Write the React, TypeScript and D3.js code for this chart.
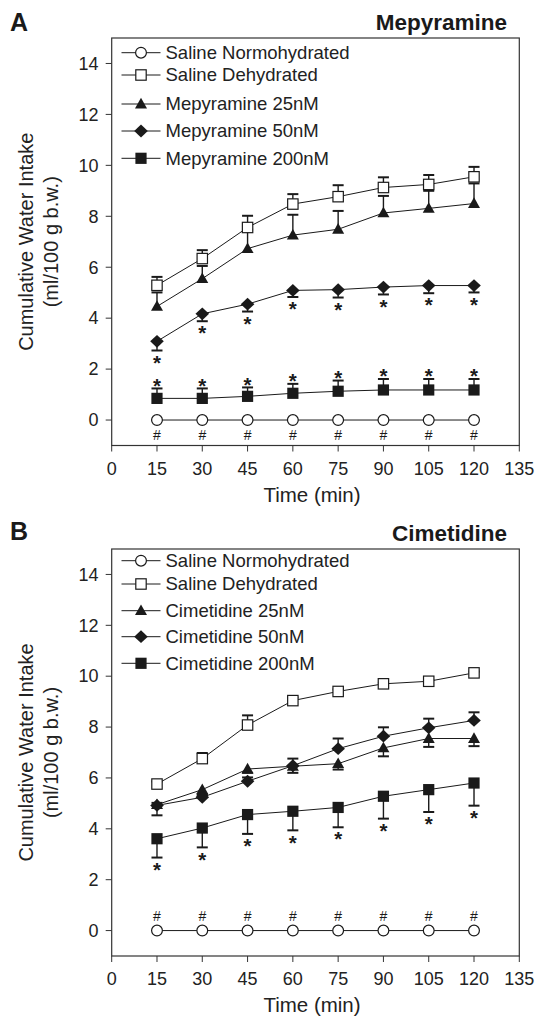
import React from "react";
import * as d3 from "d3";

const times = [15, 30, 45, 60, 75, 90, 105, 120];
const xTicks = [0, 15, 30, 45, 60, 75, 90, 105, 120, 135];
const yTicks = [0, 2, 4, 6, 8, 10, 12, 14];

// Panel A — Mepyramine
const mepLabels = ["Saline Normohydrated", "Saline Dehydrated", "Mepyramine 25nM", "Mepyramine 50nM", "Mepyramine 200nM"];
const mepNormo = [0, 0, 0, 0, 0, 0, 0, 0];
const mepDehyd = [5.29, 6.34, 7.56, 8.48, 8.77, 9.13, 9.25, 9.55];
const mepDehydErr = [0.33, 0.33, 0.46, 0.39, 0.45, 0.4, 0.37, 0.39];
const mep25 = [4.46, 5.55, 6.73, 7.26, 7.49, 8.13, 8.31, 8.5];
const mep25Err = [0.55, 0.5, 0.75, 0.8, 0.72, 0.67, 0.69, 0.79];
const mep50 = [3.09, 4.17, 4.55, 5.09, 5.12, 5.22, 5.28, 5.28];
const mep50Err = [0.36, 0.29, 0.29, 0.26, 0.31, 0.29, 0.3, 0.27];
const mep200 = [0.85, 0.85, 0.93, 1.05, 1.13, 1.18, 1.18, 1.18];
const mep200Err = [0.39, 0.39, 0.35, 0.37, 0.42, 0.43, 0.43, 0.43];

// Panel B — Cimetidine
const cimLabels = ["Saline Normohydrated", "Saline Dehydrated", "Cimetidine 25nM", "Cimetidine 50nM", "Cimetidine 200nM"];
const cimNormo = [0, 0, 0, 0, 0, 0, 0, 0];
const cimDehyd = [5.76, 6.76, 8.08, 9.04, 9.4, 9.7, 9.8, 10.13];
const cimDehydErr = [0.1, 0.22, 0.38, 0.12, 0.08, 0.05, 0.05, 0.05];
const cim25 = [4.95, 5.54, 6.35, 6.46, 6.56, 7.18, 7.55, 7.55];
const cim25Err = [0.42, 0.2, 0.15, 0.26, 0.23, 0.33, 0.33, 0.3];
const cim50 = [4.92, 5.24, 5.87, 6.48, 7.15, 7.64, 7.97, 8.26];
const cim50Err = [0.1, 0.1, 0.15, 0.28, 0.4, 0.35, 0.36, 0.32];
const cim200 = [3.61, 4.03, 4.56, 4.69, 4.84, 5.28, 5.54, 5.8];
const cim200Err = [0.74, 0.76, 0.76, 0.75, 0.78, 0.88, 0.88, 0.89];

const FONT = "'Liberation Sans', Arial, Helvetica, sans-serif";
const INK = "#1a1a1a";
const shapes = ["circle", "square", "triangle", "diamond", "squareFilled"];
const STAR_FS = 20.5;

function Marker({ shape, cx, cy }: { shape: string; cx: number; cy: number }) {
  if (shape === "circle")
    return <circle cx={cx} cy={cy} r={5.4} fill="#fff" stroke={INK} strokeWidth={1.2} />;
  if (shape === "square")
    return <rect x={cx - 5.2} y={cy - 5.2} width={10.4} height={10.4} fill="#fff" stroke={INK} strokeWidth={1.2} />;
  if (shape === "squareFilled")
    return <rect x={cx - 5.6} y={cy - 5.6} width={11.2} height={11.2} fill={INK} />;
  if (shape === "triangle")
    return <path d={`M${cx},${cy - 6.2}L${cx + 6},${cy + 4.4}L${cx - 6},${cy + 4.4}Z`} fill={INK} />;
  return <path d={`M${cx},${cy - 6.4}L${cx + 6.8},${cy}L${cx},${cy + 6.4}L${cx - 6.8},${cy}Z`} fill={INK} />;
}

type Series = { values: number[]; err: number[] | null; dir: number };

function Stars({ s, x, y, side }: { s: Series; x: any; y: any; side: number }) {
  return (
    <g>
      {s.values.map((v, i) => {
        const cap = y(v + s.dir * (s.err as number[])[i]);
        const c = cap + side * 7.5;
        return (
          <text key={i} x={x(times[i])} y={c + 0.57 * STAR_FS} fontSize={STAR_FS} fontWeight="bold" textAnchor="middle">
            *
          </text>
        );
      })}
    </g>
  );
}

function Panel(props: {
  top: number;
  bottom: number;
  letter: string;
  letterY: number;
  title: string;
  titleX: number;
  titleY: number;
  labels: string[];
  series: Series[];
  legendRows: number[];
  starsBelow: number[];
  starsAbove: number[];
  hashDir: number;
}) {
  const { top, bottom, series } = props;
  const x = d3.scaleLinear().domain([0, 135]).range([111.7, 519.3]);
  const y = d3.scaleLinear().domain([-1, 15]).range([bottom, top]);
  const line = d3
    .line<number>()
    .x((_, i) => x(times[i]))
    .y((v) => y(v));
  const midY = y(7);
  return (
    <g fontFamily={FONT} fill={INK}>
      <text x={10} y={props.letterY} fontSize={25} fontWeight="bold">
        {props.letter}
      </text>
      <text x={props.titleX} y={props.titleY} fontSize={22.5} fontWeight="bold" textAnchor="end">
        {props.title}
      </text>
      {/* frame */}
      <rect x={x(0)} y={top} width={x(135) - x(0)} height={bottom - top} fill="none" stroke="#333" strokeWidth={1.2} />
      {/* y ticks */}
      {yTicks.map((t) => (
        <g key={"y" + t}>
          <line x1={x(0) - 6} x2={x(0)} y1={y(t)} y2={y(t)} stroke="#333" strokeWidth={1} />
          <text x={98.5} y={y(t)} dy="0.35em" fontSize={18} textAnchor="end" fill="#222">
            {t}
          </text>
        </g>
      ))}
      {/* x ticks */}
      {xTicks.map((t) => (
        <g key={"x" + t}>
          <line x1={x(t)} x2={x(t)} y1={bottom} y2={bottom + 6} stroke="#333" strokeWidth={1} />
          <text x={x(t)} y={bottom + 29} fontSize={18} textAnchor="middle" fill="#222">
            {t}
          </text>
        </g>
      ))}
      <text x={312} y={bottom + 56} fontSize={20.5} textAnchor="middle" fill="#222">
        Time (min)
      </text>
      <text transform={`translate(33,${midY}) rotate(-90)`} fontSize={20} textAnchor="middle" fill="#222">
        Cumulative Water Intake
      </text>
      <text transform={`translate(58,${midY}) rotate(-90)`} fontSize={20} textAnchor="middle" fill="#222">
        (ml/100 g b.w.)
      </text>
      {/* series lines */}
      {series.map((s, k) => (
        <path key={"l" + k} d={line(s.values) || ""} fill="none" stroke={INK} strokeWidth={1} />
      ))}
      {/* error bars */}
      {series.map((s, k) =>
        s.err
          ? s.values.map((v, i) => {
              const e = v + s.dir * (s.err as number[])[i];
              return (
                <g key={"e" + k + "-" + i}>
                  <line x1={x(times[i])} x2={x(times[i])} y1={y(v)} y2={y(e)} stroke={INK} strokeWidth={1.4} />
                  <line x1={x(times[i]) - 5.5} x2={x(times[i]) + 5.5} y1={y(e)} y2={y(e)} stroke={INK} strokeWidth={2} />
                </g>
              );
            })
          : null
      )}
      {/* markers */}
      {series.map((s, k) =>
        s.values.map((v, i) => <Marker key={"m" + k + "-" + i} shape={shapes[k]} cx={x(times[i])} cy={y(v)} />)
      )}
      {/* significance marks */}
      {series[0].values.map((v, i) => (
        <text key={"h" + i} x={x(times[i])} y={y(v) + props.hashDir * 15 + 5} fontSize={14} textAnchor="middle">
          #
        </text>
      ))}
      {props.starsBelow.map((k) => (
        <Stars key={"sb" + k} s={series[k]} x={x} y={y} side={1} />
      ))}
      {props.starsAbove.map((k) => (
        <Stars key={"sa" + k} s={series[k]} x={x} y={y} side={-1} />
      ))}
      {/* legend */}
      {props.labels.map((lab, k) => {
        const ly = top + props.legendRows[k];
        return (
          <g key={"lg" + k}>
            <line x1={121.5} x2={160.5} y1={ly} y2={ly} stroke={INK} strokeWidth={1} />
            <Marker shape={shapes[k]} cx={141} cy={ly} />
            <text x={165.5} y={ly} dy="0.35em" fontSize={18.5} fill="#222">
              {lab}
            </text>
          </g>
        );
      })}
    </g>
  );
}

export default function App() {
  const seriesA: Series[] = [
    { values: mepNormo, err: null, dir: 0 },
    { values: mepDehyd, err: mepDehydErr, dir: 1 },
    { values: mep25, err: mep25Err, dir: 1 },
    { values: mep50, err: mep50Err, dir: -1 },
    { values: mep200, err: mep200Err, dir: 1 },
  ];
  const seriesB: Series[] = [
    { values: cimNormo, err: null, dir: 0 },
    { values: cimDehyd, err: cimDehydErr, dir: 1 },
    { values: cim25, err: cim25Err, dir: -1 },
    { values: cim50, err: cim50Err, dir: 1 },
    { values: cim200, err: cim200Err, dir: -1 },
  ];
  return (
    <svg width={543} height={1018} style={{ position: "absolute", left: 0, top: 0, background: "#fff" }}>
      <rect width={543} height={1018} fill="#fff" />
      <Panel
        top={38}
        bottom={445.5}
        letter="A"
        letterY={31}
        title="Mepyramine"
        titleX={507}
        titleY={30}
        labels={mepLabels}
        series={seriesA}
        legendRows={[14.7, 37, 66, 93, 120.3]}
        starsBelow={[3]}
        starsAbove={[4]}
        hashDir={1}
      />
      <Panel
        top={549}
        bottom={956}
        letter="B"
        letterY={540}
        title="Cimetidine"
        titleX={507}
        titleY={541}
        labels={cimLabels}
        series={seriesB}
        legendRows={[11.7, 35, 61.7, 87.7, 114.3]}
        starsBelow={[4]}
        starsAbove={[]}
        hashDir={-1}
      />
    </svg>
  );
}
